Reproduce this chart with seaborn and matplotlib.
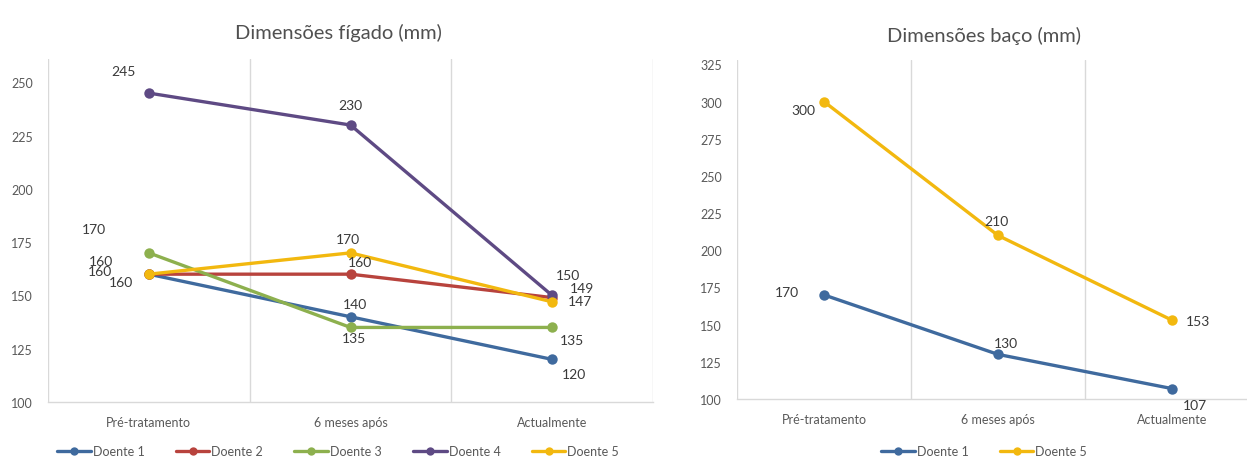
import matplotlib
matplotlib.use("Agg")
import matplotlib.pyplot as plt
from matplotlib.lines import Line2D
import seaborn as sns
import pandas as pd

# ---- data -------------------------------------------------------------
stages = ["Pré-tratamento", "6 meses após", "Actualmente"]

liver_patients = ["Doente 1", "Doente 2", "Doente 3", "Doente 4", "Doente 5"]
liver_d1 = [160, 140, 120]
liver_d2 = [160, 160, 149]
liver_d3 = [170, 135, 135]
liver_d4 = [245, 230, 150]
liver_d5 = [160, 170, 147]

spleen_patients = ["Doente 1", "Doente 5"]
spleen_d1 = [170, 130, 107]
spleen_d5 = [300, 210, 153]

liver_title = "Dimensões fígado (mm)"
spleen_title = "Dimensões baço (mm)"

colors = {
    "Doente 1": "#3F6A9E",
    "Doente 2": "#B8433D",
    "Doente 3": "#8DB04E",
    "Doente 4": "#5E4A84",
    "Doente 5": "#F2B80F",
}

# label offsets (pixels) per patient/stage
liver_offsets = {
    "Doente 1": [(-28, -8), (4, 13), (22, -15)],
    "Doente 2": [(-48, 13), (9, 12), (30, 10)],
    "Doente 3": [(-55, 24), (3, -11), (20, -13)],
    "Doente 4": [(-25, 22), (0, 20), (16, 20)],
    "Doente 5": [(-49, 3), (-3, 14), (28, 1)],
}
spleen_offsets = {
    "Doente 1": [(-37, 3), (8, 11), (23, -16)],
    "Doente 5": [(-21, -8), (-2, 14), (26, -1)],
}


def long_frame(patients, series):
    rows = []
    for p, vals in zip(patients, series):
        for i, v in enumerate(vals):
            rows.append({"stage": i, "value": v, "patient": p})
    return pd.DataFrame(rows)


liver_df = long_frame(liver_patients, [liver_d1, liver_d2, liver_d3, liver_d4, liver_d5])
spleen_df = long_frame(spleen_patients, [spleen_d1, spleen_d5])

sns.set_theme(style="white")
plt.rcParams["font.family"] = ["Lato", "DejaVu Sans"]

W, H = 1247, 460
fig = plt.figure(figsize=(W / 100, H / 100), dpi=100)
fig.patch.set_facecolor("white")

grid_col = "#D9D9D9"
tick_col = "#595959"
label_col = "#3A3A3A"


def draw_panel(ax, df, patients, ylim, yticks, offsets):
    sns.lineplot(data=df, x="stage", y="value", hue="patient",
                 hue_order=patients, palette=colors, marker="o",
                 markersize=7.5, markeredgewidth=0, linewidth=2.4,
                 sort=False, legend=False, ax=ax)
    ax.set_xlim(-0.5, 2.5)
    ax.set_ylim(*ylim)
    ax.set_yticks(yticks)
    ax.set_xticks(range(len(stages)))
    ax.set_xticklabels(stages)
    ax.set_xlabel("")
    ax.set_ylabel("")
    for xv in [-0.5, 0.5, 1.5, 2.5]:
        ax.axvline(xv, color=grid_col, lw=1.0, zorder=0)
    for s in ["top", "right", "left"]:
        ax.spines[s].set_visible(False)
    ax.spines["bottom"].set_color(grid_col)
    ax.spines["bottom"].set_linewidth(1.0)
    ax.tick_params(axis="both", length=0, labelcolor=tick_col, labelsize=9)
    ax.tick_params(axis="y", pad=11)
    ax.tick_params(axis="x", pad=10)
    ax.grid(False)
    for p in patients:
        sub = df[df.patient == p].sort_values("stage")
        for (i, v), off in zip(zip(sub.stage, sub.value), offsets[p]):
            ax.annotate(str(v), (i, v), xytext=off, textcoords="offset pixels",
                        ha="center", va="center", fontsize=10, color=label_col)


ax1 = fig.add_axes([48 / W, 57 / H, 605 / W, 343 / H])
draw_panel(ax1, liver_df, liver_patients, (100, 261), range(100, 251, 25), liver_offsets)

ax2 = fig.add_axes([737 / W, 60 / H, 522 / W, 339 / H])
draw_panel(ax2, spleen_df, spleen_patients, (100, 328), range(100, 326, 25), spleen_offsets)

fig.text(338 / W, 1 - 33 / H, liver_title, ha="center", va="center",
         fontsize=14.5, color="#505050")
fig.text(984 / W, 1 - 36 / H, spleen_title, ha="center", va="center",
         fontsize=14.5, color="#505050")


def handles(patients):
    return [Line2D([0], [0], color=colors[p], lw=2.4, marker="o",
                   markersize=6, markeredgewidth=0) for p in patients]


leg_kw = dict(loc="center", frameon=False, fontsize=9, handlelength=2.7,
              handletextpad=0.15, columnspacing=2.5, labelcolor=tick_col)
fig.legend(handles(liver_patients), liver_patients, ncol=5,
           bbox_to_anchor=(338 / W, 1 - 452 / H), **leg_kw)
fig.legend(handles(spleen_patients), spleen_patients, ncol=2,
           bbox_to_anchor=(984 / W, 1 - 452 / H), **leg_kw)

fig.savefig("out.png", dpi=100, facecolor="white")
